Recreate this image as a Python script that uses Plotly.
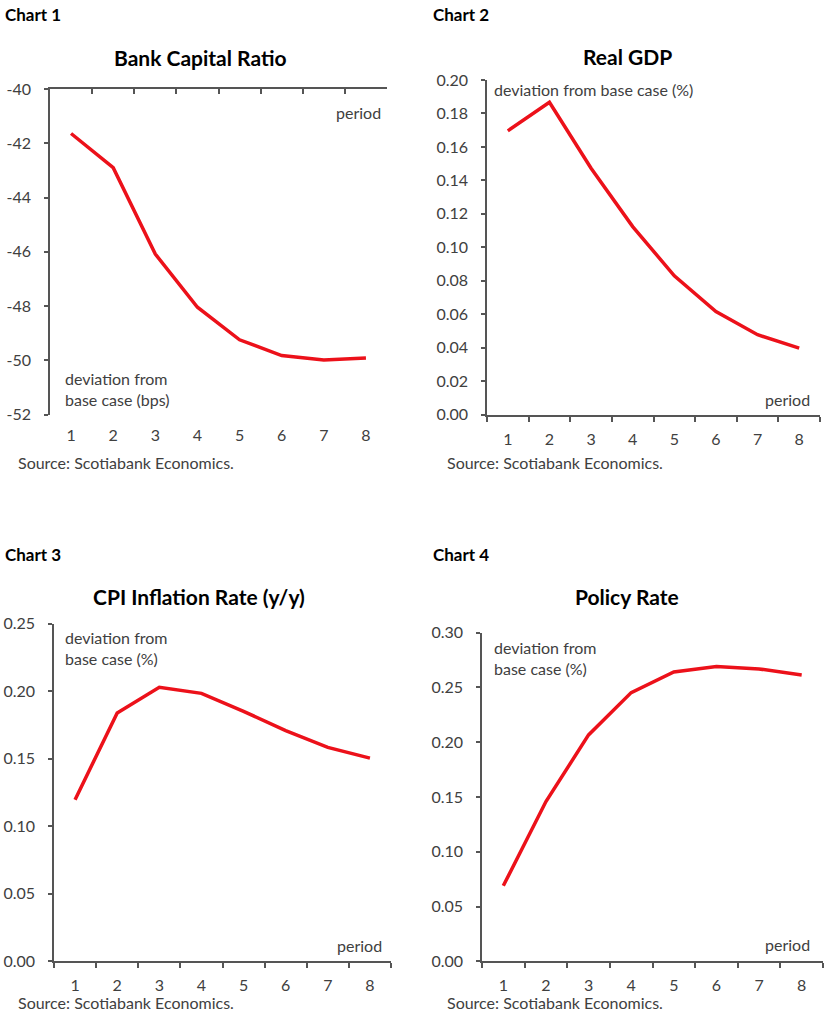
import plotly.graph_objects as go

W, H = 828, 1023

periods = [1, 2, 3, 4, 5, 6, 7, 8]
period_labels = ["1", "2", "3", "4", "5", "6", "7", "8"]
boundaries = [0.5, 1.5, 2.5, 3.5, 4.5, 5.5, 6.5, 7.5, 8.5]

bank_capital = [-41.64, -42.90, -46.08, -48.04, -49.24, -49.82, -49.98, -49.91]
real_gdp = [0.1696, 0.1867, 0.1473, 0.1124, 0.0830, 0.0617, 0.0478, 0.0398]
cpi_inflation = [0.1197, 0.1839, 0.2029, 0.1984, 0.1851, 0.1708, 0.1584, 0.1505]
policy_rate = [0.069, 0.1459, 0.2067, 0.2453, 0.2641, 0.2690, 0.2669, 0.2614]

y_ticks_1 = [-52, -50, -48, -46, -44, -42, -40]
y_ticks_2 = [0.00, 0.02, 0.04, 0.06, 0.08, 0.10, 0.12, 0.14, 0.16, 0.18, 0.20]
y_ticks_3 = [0.00, 0.05, 0.10, 0.15, 0.20, 0.25]
y_ticks_4 = [0.00, 0.05, 0.10, 0.15, 0.20, 0.25, 0.30]

titles = ["Bank Capital Ratio", "Real GDP", "CPI Inflation Rate (y/y)", "Policy Rate"]
chart_labels = ["Chart 1", "Chart 2", "Chart 3", "Chart 4"]
source = "Source: Scotiabank Economics."

RED = "#EC111A"
AX = "#555555"
TXT = "#404040"
FONT = "Lato"

# the page is rendered slightly compressed vertically; compensate
SY, OY = 0.982, 10.0

def px(x):
    return x / W

def py(y):
    return 1 - ((y - OY) / SY) / H

boxes = [
    (50, 387, 89, 415),
    (487, 820, 80, 415),
    (54, 391, 624, 962),
    (482, 823, 633, 962),
]

series = [bank_capital, real_gdp, cpi_inflation, policy_rate]
yticks = [y_ticks_1, y_ticks_2, y_ticks_3, y_ticks_4]
yfmt = ["{:.0f}", "{:.2f}", "{:.2f}", "{:.2f}"]

fig = go.Figure()
layout = {}
for i in range(4):
    n = "" if i == 0 else str(i + 1)
    x0, x1, yt, yb = boxes[i]
    fig.add_trace(go.Scatter(
        x=periods, y=series[i], mode="lines",
        line=dict(color=RED, width=3.5),
        xaxis="x" + n, yaxis="y" + n, showlegend=False, hoverinfo="skip",
    ))
    if i == 0:
        # chart 1: horizontal axis crosses at the top (-40), ticks pointing down
        xa = dict(
            domain=[px(x0), px(x1)], anchor="y", side="top", range=[0.5, 8.5],
            tickmode="array", tickvals=boundaries, showticklabels=False,
            ticks="inside", ticklen=5, tickcolor=AX, tickwidth=1.5,
            showline=True, linecolor=AX, linewidth=1.5,
            showgrid=False, zeroline=False, fixedrange=True,
        )
    else:
        xa = dict(
            domain=[px(x0), px(x1)], anchor="y" + n, range=[0.5, 8.5],
            tickmode="array", tickvals=periods, ticktext=period_labels,
            ticks="", showgrid=False, zeroline=False,
            showline=True, linecolor=AX, linewidth=1.5,
            tickfont=dict(family=FONT, size=16, color=TXT),
            ticklabelstandoff=9, fixedrange=True,
            minor=dict(tickmode="array", tickvals=boundaries, ticks="outside",
                       ticklen=5, tickcolor=AX, tickwidth=1.5, showgrid=False),
        )
    layout["xaxis" + n] = xa
    tv = yticks[i]
    layout["yaxis" + n] = dict(
        domain=[py(yb), py(yt)], anchor="x" + n, range=[tv[0], tv[-1]],
        tickmode="array", tickvals=tv, ticktext=[yfmt[i].format(v) for v in tv],
        ticks="outside", ticklen=4, tickcolor=AX, tickwidth=1.5,
        showline=True, linecolor=AX, linewidth=1.5,
        showgrid=False, zeroline=False,
        tickfont=dict(family=FONT, size=16, color=TXT),
        ticklabelstandoff=10, fixedrange=True,
    )

# chart 1 period labels sit at the bottom (low label position)
fig.add_trace(go.Scatter(
    x=periods, y=bank_capital, mode="lines", line=dict(width=0, color="rgba(0,0,0,0)"),
    xaxis="x5", yaxis="y", showlegend=False, hoverinfo="skip",
))
layout["xaxis5"] = dict(
    overlaying="x", anchor="y", side="bottom", range=[0.5, 8.5],
    tickmode="array", tickvals=periods, ticktext=period_labels,
    ticks="", showline=False, showgrid=False, zeroline=False,
    tickfont=dict(family=FONT, size=16, color=TXT),
    ticklabelstandoff=9, fixedrange=True,
)

ann = []
def text(x, y, s, size=16, color=TXT, bold=False, xanchor="left", family=FONT):
    ann.append(dict(
        x=px(x), y=py(y), xref="paper", yref="paper", text=("<b>%s</b>" % s) if bold else s,
        showarrow=False, xanchor=xanchor, yanchor="middle", align="left",
        font=dict(family=family, size=size, color=color),
    ))

text(3, 15, chart_labels[0], size=17, color="#000", bold=True)
text(431, 15, chart_labels[1], size=17, color="#000", bold=True)
text(3, 555, chart_labels[2], size=17, color="#000", bold=True)
text(431, 555, chart_labels[3], size=17, color="#000", bold=True)

text(200, 58, titles[0], size=21, color="#000", bold=True, xanchor="center")
text(627, 57, titles[1], size=21, color="#000", bold=True, xanchor="center")
text(199, 597, titles[2], size=21, color="#000", bold=True, xanchor="center")
text(627, 597, titles[3], size=21, color="#000", bold=True, xanchor="center")

text(358, 113, "period", xanchor="center")
text(787, 400, "period", xanchor="center")
text(359, 946, "period", xanchor="center")
text(787, 945, "period", xanchor="center")

text(63, 389, "deviation from<br>base case (bps)")
text(492, 90, "deviation from base case (%)")
text(63, 648, "deviation from<br>base case (%)")
text(492, 658, "deviation from<br>base case (%)")

text(16, 463, source)
text(445, 463, source)
text(16, 1003, source)
text(445, 1003, source)

fig.update_layout(
    width=W, height=H, margin=dict(l=0, r=0, t=0, b=0),
    paper_bgcolor="white", plot_bgcolor="white",
    annotations=ann, showlegend=False, **layout,
)

fig.write_html("out.html")
